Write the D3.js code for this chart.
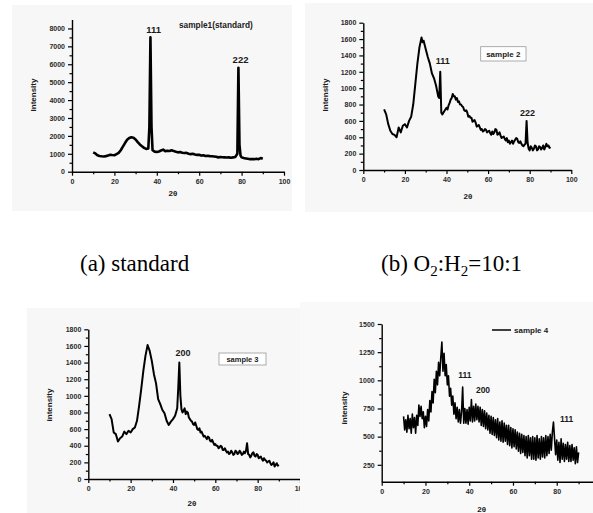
<!DOCTYPE html>
<html>
<head>
<meta charset="utf-8">
<script src="https://cdn.jsdelivr.net/npm/d3@7"></script>
<style>
  body { margin: 0; background: #fff; }
  svg { display: block; }
  .tick text { font-family: Arial, "Liberation Sans", sans-serif; font-weight: bold; font-size: 7px; fill: #2a2a2a; }
  .lbl { font-family: Arial, "Liberation Sans", sans-serif; font-weight: bold; fill: #1a1a1a; }
  .cap { font-family: "Times New Roman", "Liberation Serif", serif; font-size: 23px; fill: #000; }
</style>
</head>
<body>
<div id="container"></div>
<script>
let w = 593;
let h = 513;

// XRD scans: [2theta, intensity]
let sample1 = [[10,1080],[11,1020],[12,920],[13,880],[14,860],[15,850],[16,870],[17,900],[18,950],[19,930],
  [20,920],[21,980],[22,1050],[23,1200],[24,1400],[25,1600],[26,1780],[27,1880],[28,1920],[29,1900],
  [30,1800],[31,1650],[32,1520],[33,1420],[34,1330],[35,1270],[36,1300],[36.5,2500],[37,7500],[37.5,2500],
  [38,1200],[39,1120],[40,1100],[41,1130],[42,1180],[43,1230],[44,1150],[45,1170],[46,1160],[47,1200],
  [48,1150],[49,1120],[50,1080],[51,1100],[52,1060],[53,1040],[54,1050],[55,1000],[56,980],[57,1000],
  [58,960],[59,940],[60,950],[61,900],[62,920],[63,880],[64,890],[65,870],[66,860],[67,850],[68,830],
  [69,800],[70,820],[71,810],[72,800],[73,790],[74,800],[75,780],[76,800],[77,820],[78,1000],[78.5,5800],
  [79,1500],[79.5,900],[80,800],[81,760],[82,740],[83,720],[84,700],[85,710],[86,700],[87,720],[88,700],
  [89,760],[90,720]];

let sample2 = [[10,740],[11,680],[12,560],[13,480],[14,440],[15,430],[16,400],[17,520],[18,460],[19,540],
  [20,560],[21,520],[22,600],[23,650],[24,800],[25,1050],[26,1300],[27,1500],[27.5,1560],[28,1620],
  [28.5,1560],[29,1580],[30,1480],[31,1380],[32,1300],[33,1180],[34,1120],[35,1030],[36,900],[36.5,880],
  [37,1200],[37.5,700],[38,680],[39,720],[40,760],[40.5,740],[41,790],[41.5,820],[42,860],[42.5,880],
  [43,930],[43.5,900],[44,900],[44.5,860],[45,880],[45.5,830],[46,840],[46.5,800],[47,800],[47.5,780],
  [48,770],[48.5,730],[49,720],[49.5,730],[50,700],[50.5,650],[51,660],[51.5,640],[52,640],[52.5,590],
  [53,600],[53.5,610],[54,580],[54.5,530],[55,540],[55.5,550],[56,520],[56.5,490],[57,500],[57.5,470],
  [58,480],[58.5,500],[59,490],[59.5,460],[60,470],[60.5,480],[61,450],[61.5,430],[62,470],[62.5,440],
  [63,460],[63.5,500],[64,490],[64.5,430],[65,440],[65.5,460],[66,420],[66.5,390],[67,400],[67.5,410],
  [68,380],[68.5,360],[69,390],[69.5,340],[70,360],[70.5,320],[71,340],[71.5,360],[72,320],[72.5,350],
  [73,370],[73.5,390],[74,380],[74.5,340],[75,330],[75.5,350],[76,320],[76.5,300],[77,290],[77.5,310],
  [78,320],[78.5,600],[79,330],[79.5,260],[80,240],[80.5,290],[81,270],[81.5,240],[82,260],[82.5,300],
  [83,290],[83.5,240],[84,250],[84.5,290],[85,280],[85.5,250],[86,270],[86.5,300],[87,250],[87.5,280],
  [88,320],[88.5,290],[89,300],[89.5,270],[90,280]];

let sample3 = [[10,780],[11,720],[12,560],[13,540],[14,450],[15,490],[16,510],[17,570],[18,540],[19,580],
  [20,560],[21,600],[22,620],[23,700],[24,880],[25,1080],[26,1300],[27,1480],[28,1610],[29,1540],[30,1420],
  [31,1260],[32,1150],[33,960],[34,900],[35,830],[36,790],[37,700],[38,650],[39,690],[40,720],[41,760],
  [42,850],[42.5,1100],[43,1400],[43.5,1000],[44,840],[44.5,800],[45,820],[45.5,850],[46,780],[46.5,810],
  [47,800],[47.5,740],[48,720],[48.5,700],[49,690],[49.5,660],[50,650],[50.5,680],[51,640],[51.5,600],
  [52,590],[52.5,610],[53,560],[53.5,570],[54,540],[54.5,510],[55,520],[55.5,500],[56,480],[56.5,510],
  [57,500],[57.5,460],[58,450],[58.5,470],[59,440],[59.5,410],[60,420],[60.5,400],[61,400],[61.5,370],
  [62,380],[62.5,400],[63,390],[63.5,350],[64,350],[64.5,370],[65,340],[65.5,320],[66,330],[66.5,300],
  [67,310],[67.5,340],[68,320],[68.5,290],[69,300],[69.5,340],[70,330],[70.5,300],[71,310],[71.5,340],
  [72,320],[72.5,290],[73,300],[73.5,330],[74,310],[74.5,340],[75,430],[75.5,300],[76,290],[76.5,260],
  [77,280],[77.5,310],[78,320],[78.5,280],[79,270],[79.5,300],[80,290],[80.5,250],[81,260],[81.5,270],
  [82,240],[82.5,220],[83,250],[83.5,230],[84,220],[84.5,200],[85,210],[85.5,220],[86,190],[86.5,170],
  [87,180],[87.5,200],[88,150],[88.5,170],[89,190],[89.5,160],[90,170]];

let sample4 = [[10,680],[10.5,560],[11,650],[11.5,540],[12,690],[12.5,570],[13,660],[13.5,530],[14,700],
  [14.5,580],[15,670],[15.5,530],[16,690],[16.5,600],[17,780],[17.5,680],[18,770],[18.5,660],[19,720],
  [19.5,580],[20,680],[20.5,590],[21,740],[21.5,640],[22,820],[22.5,720],[23,900],[23.5,800],[24,1010],
  [24.5,890],[25,1080],[25.5,960],[26,1160],[26.5,1040],[27,1200],[27.5,1340],[28,1080],[28.5,1240],
  [29,1040],[29.5,1140],[30,960],[30.5,1040],[31,860],[31.5,930],[32,780],[32.5,860],[33,700],[33.5,800],
  [34,660],[34.5,760],[35,630],[35.5,740],[36,620],[36.5,720],[37,940],[37.5,620],[38,750],[38.5,620],
  [39,740],[39.5,610],[40,760],[40.5,640],[41,830],[41.5,630],[42,770],[42.5,640],[43,790],[43.5,650],
  [44,770],[44.5,630],[45,760],[45.5,600],[46,740],[46.5,590],[47,730],[47.5,570],[48,710],[48.5,560],
  [49,690],[49.5,530],[50,680],[50.5,520],[51,670],[51.5,510],[52,650],[52.5,490],[53,660],[53.5,470],
  [54,630],[54.5,460],[55,640],[55.5,450],[56,620],[56.5,460],[57,600],[57.5,430],[58,600],[58.5,420],
  [59,580],[59.5,400],[60,570],[60.5,410],[61,560],[61.5,390],[62,540],[62.5,370],[63,530],[63.5,350],
  [64,520],[64.5,360],[65,510],[65.5,330],[66,500],[66.5,310],[67,510],[67.5,330],[68,490],[68.5,300],
  [69,500],[69.5,300],[70,490],[70.5,290],[71,510],[71.5,310],[72,480],[72.5,300],[73,500],[73.5,320],
  [74,490],[74.5,310],[75,510],[75.5,330],[76,500],[76.5,350],[77,520],[77.5,380],[78,540],[78.5,630],
  [79,480],[79.5,340],[80,470],[80.5,290],[81,450],[81.5,270],[82,480],[82.5,300],[83,440],[83.5,280],
  [84,430],[84.5,300],[85,450],[85.5,280],[86,420],[86.5,280],[87,430],[87.5,290],[88,400],[88.5,260],
  [89,410],[89.5,270],[90,360]];

// peak labels: [2theta, intensity, text]
let peaks1 = [[38.5, 7750, "111"], [79.5, 6050, "222"]];
let peaks2 = [[38.2, 1290, "111"], [79, 660, "222"]];
let peaks3 = [[44.7, 1480, "200"]];
let peaks4 = [[38, 1020, "111"], [46.3, 886, "200"], [84.5, 634, "111"]];

let xTicks = [0, 20, 40, 60, 80, 100];
let xTicks4 = [0, 20, 40, 60, 80];
let yTicks1 = d3.range(0, 8001, 1000);
let yTicks2 = d3.range(0, 1801, 200);
let yTicks4 = [250, 500, 750, 1000, 1250, 1500];

let captions = ["(a) standard", "(b) O₂:H₂=10:1"];

let viz = d3.select("#container")
  .append("svg")
  .attr("width", w)
  .attr("height", h);

// light scan backgrounds
viz.append("rect").attr("x", 12).attr("y", 5).attr("width", 280).attr("height", 206).attr("fill", "#f7f7f7");
viz.append("rect").attr("x", 305).attr("y", 3).attr("width", 288).attr("height", 209).attr("fill", "#f7f7f7");
viz.append("rect").attr("x", 27).attr("y", 308).attr("width", 273).attr("height", 205).attr("fill", "#f7f7f7");
viz.append("rect").attr("x", 300).attr("y", 302).attr("width", 293).attr("height", 211).attr("fill", "#f9f9f9");

let clip = viz.append("clipPath").attr("id", "clipC");
clip.append("rect").attr("x", 0).attr("y", 300).attr("width", 300).attr("height", 213);

function drawPanel(cfg) {
  let g = viz.append("g");
  if (cfg.clip) g.attr("clip-path", "url(#" + cfg.clip + ")");

  let xScale = d3.scaleLinear().domain([0, 100]).range([cfg.left, cfg.right]);
  let yScale = d3.scaleLinear().domain(cfg.yDomain).range([cfg.bottom, cfg.top]);

  // minor ticks
  let xMinor = d3.range(10, 100, 20);
  g.append("g").attr("transform", "translate(0," + cfg.bottom + ")")
    .call(d3.axisBottom(xScale).tickValues(xMinor).tickSize(2.5).tickFormat(""))
    .call(s => s.select(".domain").remove());
  g.append("g").attr("transform", "translate(" + cfg.left + ",0)")
    .call(d3.axisLeft(yScale).tickValues(cfg.yMinor).tickSize(2.5).tickFormat(""))
    .call(s => s.select(".domain").remove());

  // major axes
  let fmt = d3.format("d");
  let xAxisGroup = g.append("g").attr("transform", "translate(0," + cfg.bottom + ")");
  xAxisGroup.call(d3.axisBottom(xScale).tickValues(cfg.xTicks || xTicks).tickFormat(fmt)
    .tickSize(4).tickSizeOuter(0).tickPadding(3));
  let yAxisGroup = g.append("g").attr("transform", "translate(" + cfg.left + ",0)");
  yAxisGroup.call(d3.axisLeft(yScale).tickValues(cfg.yTicks).tickFormat(fmt)
    .tickSize(4).tickSizeOuter(0).tickPadding(3));
  g.selectAll(".domain").attr("stroke-width", 1.4);
  g.selectAll(".tick line").attr("stroke-width", 1.2);

  // scan
  let line = d3.line().x(d => xScale(d[0])).y(d => yScale(d[1]));
  g.append("path").datum(cfg.data)
    .attr("d", line)
    .attr("fill", "none")
    .attr("stroke", "#000")
    .attr("stroke-width", cfg.stroke)
    .attr("stroke-linejoin", "round");

  // peak labels
  g.selectAll(".peak").data(cfg.peaks).enter().append("text")
    .attr("class", "lbl")
    .attr("x", d => xScale(d[0]))
    .attr("y", d => yScale(d[1]))
    .attr("text-anchor", "middle")
    .attr("font-size", cfg.peakSize)
    .text(d => d[2]);

  // axis titles
  g.append("text").attr("class", "lbl")
    .attr("transform", "translate(" + cfg.yLabelAt[0] + "," + cfg.yLabelAt[1] + ") rotate(-90)")
    .attr("text-anchor", "middle").attr("dy", "0.35em")
    .attr("font-size", 8)
    .text(cfg.yLabel);
  g.append("text").attr("class", "lbl")
    .attr("x", cfg.xLabelAt[0]).attr("y", cfg.xLabelAt[1])
    .attr("text-anchor", "middle").attr("dy", "0.35em")
    .attr("font-size", 8)
    .text("2θ");

  return g;
}

let gA = drawPanel({
  data: sample1, peaks: peaks1, left: 72, right: 284, bottom: 171.7, top: 19.5,
  yDomain: [0, 8500], yTicks: yTicks1, yMinor: d3.range(500, 8001, 1000),
  stroke: 2.6, peakSize: 9.5, yLabel: "Intensity", yLabelAt: [33, 95], xLabelAt: [173, 193]
});
gA.append("text").attr("class", "lbl").attr("x", 179).attr("y", 28).attr("font-size", 8.3)
  .text("sample1(standard)");

let gB = drawPanel({
  data: sample2, peaks: peaks2, left: 363.3, right: 571.3, bottom: 170, top: 22.7,
  yDomain: [0, 1800], yTicks: yTicks2, yMinor: d3.range(100, 1800, 200),
  stroke: 2, peakSize: 9, yLabel: "Intensity", yLabelAt: [325, 95], xLabelAt: [468, 196]
});
gB.append("rect").attr("x", 480.7).attr("y", 46.7).attr("width", 45.3).attr("height", 14.3)
  .attr("fill", "#fff").attr("stroke", "#999").attr("stroke-width", 0.8);
gB.append("text").attr("class", "lbl").attr("x", 503.3).attr("y", 54).attr("dy", "0.35em")
  .attr("text-anchor", "middle").attr("font-size", 8).text("sample 2");

let gC = drawPanel({
  clip: "clipC",
  data: sample3, peaks: peaks3, left: 88.3, right: 300, bottom: 479, top: 329.3,
  yDomain: [0, 1800], yTicks: yTicks2, yMinor: d3.range(100, 1800, 200),
  stroke: 2, peakSize: 9, yLabel: "intensity", yLabelAt: [49, 405], xLabelAt: [192, 503]
});
gC.append("rect").attr("x", 219).attr("y", 353).attr("width", 47).attr("height", 12)
  .attr("fill", "#fff").attr("stroke", "#999").attr("stroke-width", 0.8);
gC.append("text").attr("class", "lbl").attr("x", 242.5).attr("y", 359).attr("dy", "0.35em")
  .attr("text-anchor", "middle").attr("font-size", 7.5).text("sample 3");

let gD = drawPanel({
  data: sample4, peaks: peaks4, left: 381.7, right: 600.5, bottom: 481.7, top: 324,
  xTicks: xTicks4, yDomain: [100, 1500], yTicks: yTicks4, yMinor: [375, 625, 875, 1125, 1375],
  stroke: 1.6, peakSize: 8.5, yLabel: "intensity", yLabelAt: [344, 408], xLabelAt: [481.7, 509]
});
gD.append("line").attr("x1", 492).attr("x2", 511).attr("y1", 330).attr("y2", 330)
  .attr("stroke", "#000").attr("stroke-width", 1.5);
gD.append("text").attr("class", "lbl").attr("x", 514).attr("y", 330).attr("dy", "0.35em")
  .attr("font-size", 8).text("sample 4");

// captions under the top row
let cap = viz.append("g");
cap.append("text").attr("class", "cap").attr("x", 80).attr("y", 271).text(captions[0]);
let capB = cap.append("text").attr("class", "cap").attr("x", 381).attr("y", 271);
capB.append("tspan").text("(b) O");
capB.append("tspan").attr("font-size", 15).attr("dy", 5).text("2");
capB.append("tspan").attr("dy", -5).text(":H");
capB.append("tspan").attr("font-size", 15).attr("dy", 5).text("2");
capB.append("tspan").attr("dy", -5).text("=10:1");
</script>
</body>
</html>
